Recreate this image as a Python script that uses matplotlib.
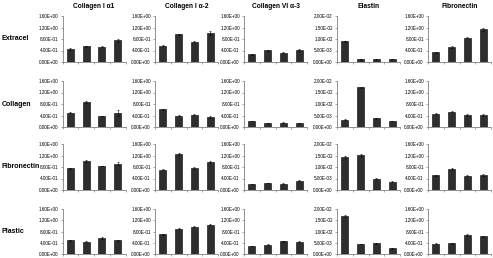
import matplotlib
matplotlib.use("Agg")
import matplotlib.pyplot as plt
from matplotlib.ticker import FuncFormatter
import numpy as np

plt.rcParams['font.family'] = ['Liberation Sans', 'DejaVu Sans']

genes = ["Collagen I \u03b11", "Collagen I \u03b1-2", "Collagen VI \u03b1-3", "Elastin", "Fibronectin"]
substrates = ["Extracel", "Collagen", "Fibronectin", "Plastic"]
groups = ["A", "B", "C", "D"]

# values[row][col] -> 4 bars
extracel_vals = [
    [0.45, 0.54, 0.53, 0.75],
    [0.57, 0.96, 0.71, 1.01],
    [0.27, 0.41, 0.32, 0.43],
    [0.0091, 0.0011, 0.0011, 0.0013],
    [0.34, 0.52, 0.85, 1.14],
]
extracel_err = [
    [0.02, 0.02, 0.02, 0.04],
    [0.02, 0.03, 0.03, 0.06],
    [0.01, 0.02, 0.02, 0.03],
    [0.0002, 0.0001, 0.0001, 0.0002],
    [0.01, 0.02, 0.02, 0.05],
]
collagen_vals = [
    [0.50, 0.87, 0.39, 0.49],
    [0.62, 0.40, 0.43, 0.34],
    [0.21, 0.14, 0.15, 0.14],
    [0.0031, 0.0172, 0.0037, 0.0025],
    [0.46, 0.53, 0.42, 0.42],
]
collagen_err = [
    [0.02, 0.03, 0.01, 0.10],
    [0.02, 0.02, 0.02, 0.03],
    [0.01, 0.01, 0.01, 0.01],
    [0.0002, 0.0003, 0.0002, 0.0001],
    [0.01, 0.02, 0.02, 0.02],
]
fibronectin_vals = [
    [0.76, 1.02, 0.84, 0.92],
    [0.70, 1.24, 0.76, 0.97],
    [0.21, 0.24, 0.22, 0.32],
    [0.0143, 0.0152, 0.0049, 0.0035],
    [0.51, 0.74, 0.50, 0.52],
]
fibronectin_err = [
    [0.02, 0.04, 0.01, 0.04],
    [0.02, 0.03, 0.03, 0.04],
    [0.01, 0.01, 0.01, 0.02],
    [0.0003, 0.0004, 0.0003, 0.0002],
    [0.01, 0.03, 0.01, 0.03],
]
plastic_vals = [
    [0.49, 0.44, 0.56, 0.49],
    [0.70, 0.90, 0.97, 1.04],
    [0.29, 0.33, 0.46, 0.44],
    [0.0168, 0.0044, 0.0047, 0.0025],
    [0.37, 0.38, 0.67, 0.63],
]
plastic_err = [
    [0.01, 0.01, 0.03, 0.01],
    [0.02, 0.02, 0.02, 0.02],
    [0.01, 0.01, 0.02, 0.01],
    [0.0004, 0.0001, 0.0002, 0.0001],
    [0.02, 0.01, 0.03, 0.02],
]
all_vals = [extracel_vals, collagen_vals, fibronectin_vals, plastic_vals]
all_err = [extracel_err, collagen_err, fibronectin_err, plastic_err]

ticks_std = [0, 0.4, 0.8, 1.2, 1.6]
ticks_elastin = [0, 0.005, 0.010, 0.015, 0.020]

W, H = 493, 258
fig = plt.figure(figsize=(W / 100, H / 100), dpi=100)

col_left = [62.5, 155, 244, 337, 428]
col_w = 63
row_top = [16, 81, 144, 209]
row_bot = [62, 127, 190, 254]

spine_c = '#808080'
fmt = FuncFormatter(lambda v, p: "%.2E" % v)

for r in range(4):
    for c in range(5):
        ax = fig.add_axes([col_left[c] / W, 1 - row_bot[r] / H, col_w / W, (row_bot[r] - row_top[r]) / H])
        x = np.arange(len(groups))
        ax.bar(x, all_vals[r][c], width=0.45, color='#2e2e2e', edgecolor='black', linewidth=0.4,
               yerr=all_err[r][c], error_kw=dict(ecolor='black', elinewidth=0.4, capsize=1.0, capthick=0.4))
        ticks = ticks_elastin if c == 3 else ticks_std
        ax.set_ylim(0, ticks[-1])
        ax.set_yticks(ticks)
        ax.yaxis.set_major_formatter(fmt)
        ax.set_xlim(-0.5, 3.5)
        ax.set_xticks([-0.5, 0.5, 1.5, 2.5, 3.5])
        ax.set_xticklabels([])
        for s in ['top', 'right']:
            ax.spines[s].set_visible(False)
        for s in ['left', 'bottom']:
            ax.spines[s].set_color(spine_c)
            ax.spines[s].set_linewidth(0.6)
        ax.tick_params(axis='both', direction='out', length=1.5, width=0.5, color=spine_c,
                       labelsize=3.3, pad=1.5)
        if r == 0:
            ax.set_title(genes[c], fontsize=4.8, fontweight='bold', pad=6)
        if c == 0:
            fig.text(2 / W, 1 - (row_top[r] + row_bot[r]) / 2 / H, substrates[r],
                     fontsize=5, fontweight='bold', ha='left', va='center')

fig.savefig("out.png", dpi=100)
